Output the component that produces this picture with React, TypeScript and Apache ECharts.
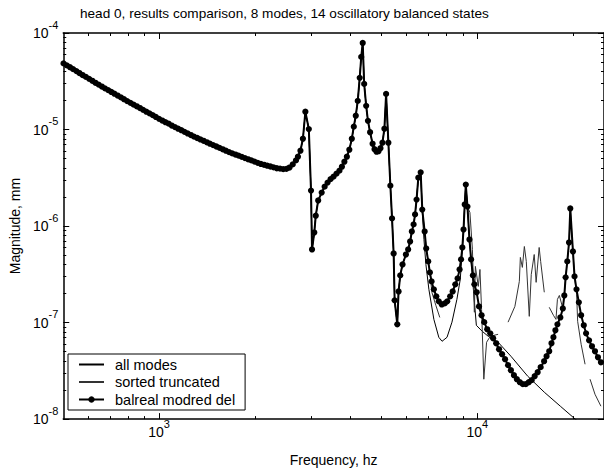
import React, { useEffect, useRef } from "react";
import * as echarts from "echarts";

const FONT = "'Liberation Sans', Arial, Helvetica, sans-serif";

const titleText = "head 0, results comparison, 8 modes, 14 oscillatory balanced states";
const xAxisName = "Frequency, hz";
const yAxisName = "Magnitude, mm";
const seriesNames = ["all modes", "sorted truncated", "balreal modred del"];

const X_MIN = 500;
const X_MAX = 25000;
const Y_MIN = 1e-8;
const Y_MAX = 1e-4;

const xMajorTicks = [1000, 10000];
const xMinorTicks = [600, 700, 800, 900, 2000, 3000, 4000, 5000, 6000, 7000, 8000, 9000, 20000];
const yMajorTicks = [1e-8, 1e-7, 1e-6, 1e-5, 1e-4];
const yMinorTicks = [
  2e-8, 3e-8, 4e-8, 5e-8, 6e-8, 7e-8, 8e-8, 9e-8,
  2e-7, 3e-7, 4e-7, 5e-7, 6e-7, 7e-7, 8e-7, 9e-7,
  2e-6, 3e-6, 4e-6, 5e-6, 6e-6, 7e-6, 8e-6, 9e-6,
  2e-5, 3e-5, 4e-5, 5e-5, 6e-5, 7e-5, 8e-5, 9e-5,
];

// balreal modred del: [frequency Hz, magnitude mm]
const balrealData: [number, number][] = [
  [501, 4.84e-5], [513, 4.62e-5], [525, 4.42e-5], [537, 4.22e-5], [550, 4.03e-5],
  [562, 3.85e-5], [575, 3.67e-5], [589, 3.51e-5], [603, 3.35e-5], [617, 3.2e-5],
  [631, 3.05e-5], [646, 2.92e-5], [661, 2.79e-5], [676, 2.67e-5], [692, 2.56e-5],
  [708, 2.45e-5], [724, 2.35e-5], [741, 2.25e-5], [759, 2.15e-5], [776, 2.06e-5],
  [794, 1.97e-5], [813, 1.89e-5], [832, 1.81e-5], [851, 1.74e-5], [871, 1.67e-5],
  [891, 1.6e-5], [912, 1.53e-5], [933, 1.47e-5], [955, 1.41e-5], [977, 1.35e-5],
  [1000, 1.29e-5], [1023, 1.24e-5], [1047, 1.19e-5], [1072, 1.15e-5], [1096, 1.1e-5],
  [1122, 1.06e-5], [1148, 1.02e-5], [1175, 9.84e-6], [1202, 9.46e-6], [1230, 9.1e-6],
  [1259, 8.77e-6], [1288, 8.43e-6], [1318, 8.17e-6], [1349, 7.89e-6], [1380, 7.64e-6],
  [1413, 7.38e-6], [1445, 7.13e-6], [1479, 6.9e-6], [1514, 6.67e-6], [1549, 6.46e-6],
  [1585, 6.24e-6], [1622, 6.03e-6], [1660, 5.83e-6], [1698, 5.66e-6], [1738, 5.51e-6],
  [1778, 5.36e-6], [1820, 5.2e-6], [1862, 5.06e-6], [1905, 4.92e-6], [1950, 4.79e-6],
  [1995, 4.65e-6], [2042, 4.52e-6], [2089, 4.4e-6], [2138, 4.31e-6], [2188, 4.22e-6],
  [2239, 4.14e-6], [2291, 4.06e-6], [2344, 3.97e-6], [2399, 3.93e-6], [2455, 3.89e-6],
  [2512, 3.91e-6], [2570, 4.04e-6], [2630, 4.35e-6], [2692, 4.79e-6],
  [2731, 5.23e-6], [2781, 6.03e-6], [2831, 8.02e-6], [2882, 1.53e-5], [2955, 1.01e-5],
  [3002, 2.33e-6], [3024, 5.72e-7], [3074, 8.57e-7], [3107, 1.28e-6], [3162, 1.84e-6],
  [3243, 2.22e-6], [3313, 2.56e-6], [3384, 2.82e-6], [3458, 3.06e-6], [3533, 3.25e-6],
  [3610, 3.49e-6], [3688, 3.75e-6], [3754, 4.12e-6], [3822, 4.64e-6], [3891, 5.23e-6],
  [3961, 6.18e-6], [4033, 8.02e-6], [4091, 1.07e-5], [4150, 1.39e-5], [4210, 1.98e-5],
  [4270, 3.43e-5], [4317, 5.65e-5], [4364, 7.88e-5], [4410, 2.97e-5], [4474, 1.76e-5],
  [4532, 1.23e-5], [4603, 9.37e-6], [4687, 7.12e-6], [4753, 6.25e-6], [4822, 5.89e-6],
  [4891, 5.96e-6], [4962, 6.4e-6], [5033, 7.3e-6], [5105, 1.02e-5], [5168, 2.34e-5],
  [5254, 7.3e-6], [5330, 2.62e-6], [5395, 1.2e-6], [5458, 5.2e-7], [5497, 1.7e-7],
  [5603, 9.59e-8], [5656, 2.1e-7], [5725, 3.08e-7], [5820, 4.0e-7], [5964, 5.07e-7],
  [6062, 5.72e-7], [6149, 6.92e-7], [6225, 8.77e-7], [6306, 1.04e-6], [6373, 1.32e-6],
  [6442, 1.88e-6], [6525, 3.17e-6], [6637, 3.6e-6], [6714, 1.48e-6], [6831, 8.77e-7],
  [6908, 5.85e-7], [7009, 4.3e-7], [7094, 3.31e-7], [7181, 2.67e-7], [7301, 2.21e-7],
  [7432, 1.87e-7], [7567, 1.66e-7], [7731, 1.54e-7], [7899, 1.58e-7], [8042, 1.66e-7],
  [8216, 1.87e-7], [8365, 2.1e-7], [8527, 2.49e-7], [8669, 2.87e-7], [8794, 3.55e-7],
  [8889, 4.51e-7], [8972, 6.0e-7], [9049, 9.2e-7], [9127, 1.67e-6], [9199, 2.69e-6],
  [9310, 1.59e-6], [9445, 7.25e-7], [9559, 4.51e-7], [9683, 3.08e-7], [9788, 2.49e-7],
  [9950, 2.06e-7], [10120, 1.47e-7], [10310, 1.19e-7], [10510, 1.01e-7], [10740, 8.52e-8],
  [10980, 7.74e-8], [11210, 6.88e-8], [11460, 6.1e-8], [11700, 5.29e-8], [11960, 4.7e-8],
  [12220, 4.17e-8], [12490, 3.62e-8], [12750, 3.21e-8], [13030, 2.85e-8], [13310, 2.59e-8],
  [13600, 2.41e-8], [13900, 2.3e-8], [14200, 2.3e-8], [14510, 2.41e-8], [14820, 2.53e-8],
  [15140, 2.78e-8], [15470, 3.06e-8], [15810, 3.45e-8], [16210, 3.98e-8], [16500, 4.48e-8],
  [16820, 5.04e-8], [17100, 6.1e-8], [17340, 7.04e-8], [17590, 8.32e-8], [17850, 9.59e-8],
  [18230, 1.13e-7], [18560, 1.4e-7], [18760, 1.91e-7], [18940, 2.94e-7], [19170, 4.3e-7],
  [19410, 6.75e-7], [19590, 1.52e-6], [19970, 5.45e-7], [20200, 3.01e-7], [20490, 2.21e-7],
  [20840, 1.62e-7], [21190, 1.19e-7], [21600, 9.37e-8], [21960, 7.74e-8], [22440, 6.55e-8],
  [22920, 5.68e-8], [23420, 5.04e-8], [23930, 4.37e-8], [24450, 3.88e-8],
];

// all modes: coincides with balreal up to 6637 Hz, then:
const allModesSplit = 6637;
const allModesHigh: [number, number][] = [
  [6714, 1.41e-6], [6796, 7.25e-7], [6893, 4.0e-7], [7043, 2.21e-7], [7301, 1.08e-7],
  [7567, 7.04e-8], [7747, 6.4e-8], [8030, 7.04e-8], [8322, 1.01e-7], [8625, 1.74e-7],
  [8837, 2.8e-7], [8951, 5.07e-7], [9049, 9.2e-7], [9199, 2.69e-6], [9310, 1.59e-6],
  [9445, 7.25e-7], [9559, 4.51e-7], [9718, 2.21e-7], [9929, 9.37e-8], [10360, 8.12e-8],
  [10820, 7.21e-8], [11620, 6.25e-8], [12750, 4.48e-8], [14400, 2.78e-8], [16230, 1.9e-8],
  [18230, 1.36e-8], [20300, 1.0e-8], [24450, 6.21e-9],
];

// sorted truncated: coincides with balreal up to 7094 Hz, then (null = gap):
const sortedSplit = 7094;
const sortedHigh: [number, number | null][] = [
  [7197, 2.06e-7], [7406, 1.51e-7], [7621, 1.13e-7], [7700, null],
  [8527, 2.49e-7], [8669, 2.87e-7], [8794, 3.55e-7], [8889, 4.51e-7], [8972, 6.0e-7],
  [9049, 9.2e-7], [9127, 1.67e-6], [9199, 2.69e-6], [9310, 1.59e-6], [9478, 1.38e-6],
  [9650, 5.72e-7], [9788, 1.28e-7], [9858, 3.82e-7], [10070, 2.37e-7], [10190, 3.55e-7],
  [10310, 1.37e-7], [10480, 2.59e-8], [10690, 6.25e-8], [10980, 7.21e-8], [11620, 7.56e-8],
  [12000, null],
  [12490, 1.01e-7], [13120, 1.47e-7], [13550, 2.67e-7], [13650, 4.73e-7], [13850, 3.73e-7],
  [14050, 6.14e-7], [14250, 4.3e-7], [14560, 1.16e-7], [14770, 3.15e-7], [15090, 5.07e-7],
  [15300, 2.61e-7], [15640, 6.0e-7], [15810, 4.3e-7], [16230, 2.06e-7],
  [16500, null],
  [16820, 1.44e-7], [17340, 1.19e-7], [17660, 1.08e-7], [17850, 1.74e-7], [18100, 1.91e-7],
  [18560, 1.4e-7], [18760, 1.91e-7], [18940, 2.94e-7], [19170, 4.3e-7], [19410, 6.75e-7],
  [19590, 1.52e-6], [19970, 5.45e-7], [20200, 3.01e-7], [20510, 1.96e-7], [20660, 1.03e-7],
  [21190, 5.96e-8], [21800, 3.7e-8],
  [22200, null],
  [22600, 2.59e-8], [23420, 1.81e-8], [24450, 1.36e-8],
];

const powFormatter = (v: number) => {
  const e = Math.round(Math.log10(v));
  return `{b|10}{s|${e}}`;
};

// base "10" centred on the tick, exponent raised ~9px via padding
const labelRich = {
  b: { fontSize: 14, lineHeight: 14, padding: [9, 0, 9, 0], color: "#000", fontFamily: FONT },
  s: { fontSize: 11, lineHeight: 11, padding: [0, 0, 17, 0], color: "#000", fontFamily: FONT },
};

export default function App() {
  const ref = useRef<HTMLDivElement>(null);

  useEffect(() => {
    if (!ref.current) return;
    const chart = echarts.init(ref.current, null, { renderer: "svg" });

    const allModesData = balrealData.filter(([f]) => f <= allModesSplit).concat(allModesHigh as any);
    const sortedData = (balrealData.filter(([f]) => f <= sortedSplit) as any[]).concat(sortedHigh);

    const lineColor = "#000";
    const baseX = { type: "log", logBase: 10, min: X_MIN, max: X_MAX, gridIndex: 0, splitLine: { show: false } };
    const baseY = { type: "log", logBase: 10, min: Y_MIN, max: Y_MAX, gridIndex: 0, splitLine: { show: false } };

    const option: any = {
      animation: false,
      backgroundColor: "#fff",
      title: {
        text: titleText,
        left: 80,
        top: 6,
        padding: 0,
        textStyle: { fontFamily: FONT, fontSize: 13.6, fontWeight: "normal", color: "#000" },
      },
      legend: {
        orient: "vertical",
        left: 68,
        top: 354,
        padding: [3, 10, 3, 10],
        itemWidth: 25,
        itemHeight: 8,
        itemGap: 2.5,
        borderColor: "#000",
        borderWidth: 1,
        backgroundColor: "#fff",
        textStyle: { fontFamily: FONT, fontSize: 14.5, color: "#000", padding: [0, 0, 0, 6] },
        data: [
          { name: seriesNames[0], itemStyle: { opacity: 0 } },
          { name: seriesNames[1], itemStyle: { opacity: 0 } },
          { name: seriesNames[2] },
        ],
      },
      grid: { left: 61, right: -3, top: 33, bottom: 52, containLabel: false },
      xAxis: [
        {
          ...baseX,
          position: "bottom",
          axisLine: { show: true, lineStyle: { color: lineColor, width: 1.5 } },
          axisTick: { show: true, inside: true, length: 6, customValues: xMajorTicks, lineStyle: { color: lineColor, width: 1 } },
          axisLabel: { show: true, customValues: xMajorTicks, formatter: powFormatter, rich: labelRich, margin: 6, color: "#000", fontFamily: FONT },
          name: xAxisName,
          nameLocation: "middle",
          nameGap: 32,
          nameTextStyle: { fontFamily: FONT, fontSize: 14, color: "#000" },
        },
        {
          ...baseX,
          position: "bottom",
          axisLine: { show: false },
          axisTick: { show: true, inside: true, length: 3, customValues: xMinorTicks, lineStyle: { color: lineColor, width: 1 } },
          axisLabel: { show: false },
        },
        {
          ...baseX,
          position: "top",
          axisLine: { show: true, lineStyle: { color: lineColor, width: 1.5 } },
          axisTick: { show: true, inside: true, length: 6, customValues: xMajorTicks, lineStyle: { color: lineColor, width: 1 } },
          axisLabel: { show: false },
        },
        {
          ...baseX,
          position: "top",
          axisLine: { show: false },
          axisTick: { show: true, inside: true, length: 3, customValues: xMinorTicks, lineStyle: { color: lineColor, width: 1 } },
          axisLabel: { show: false },
        },
      ],
      yAxis: [
        {
          ...baseY,
          position: "left",
          axisLine: { show: true, lineStyle: { color: lineColor, width: 1.5 } },
          axisTick: { show: true, inside: true, length: 6, customValues: yMajorTicks, lineStyle: { color: lineColor, width: 1 } },
          axisLabel: { show: true, customValues: yMajorTicks, formatter: powFormatter, rich: labelRich, margin: 5, color: "#000", fontFamily: FONT },
          name: yAxisName,
          nameLocation: "middle",
          nameGap: 38,
          nameTextStyle: { fontFamily: FONT, fontSize: 14, color: "#000" },
        },
        {
          ...baseY,
          position: "left",
          axisLine: { show: false },
          axisTick: { show: true, inside: true, length: 3, customValues: yMinorTicks, lineStyle: { color: lineColor, width: 1 } },
          axisLabel: { show: false },
        },
        {
          ...baseY,
          position: "right",
          axisLine: { show: true, lineStyle: { color: lineColor, width: 1.5 } },
          axisTick: { show: true, inside: true, length: 6, customValues: yMajorTicks, lineStyle: { color: lineColor, width: 1 } },
          axisLabel: { show: false },
        },
        {
          ...baseY,
          position: "right",
          axisLine: { show: false },
          axisTick: { show: true, inside: true, length: 3, customValues: yMinorTicks, lineStyle: { color: lineColor, width: 1 } },
          axisLabel: { show: false },
        },
      ],
      series: [
        {
          name: seriesNames[0],
          type: "line",
          xAxisIndex: 0,
          yAxisIndex: 0,
          data: allModesData,
          symbol: "none",
          showSymbol: false,
          connectNulls: false,
          lineStyle: { color: "#000", width: 1 },
          itemStyle: { color: "#000" },
          z: 2,
        },
        {
          name: seriesNames[1],
          type: "line",
          xAxisIndex: 0,
          yAxisIndex: 0,
          data: sortedData,
          symbol: "none",
          showSymbol: false,
          connectNulls: false,
          lineStyle: { color: "#333", width: 1 },
          itemStyle: { color: "#333" },
          z: 3,
        },
        {
          name: seriesNames[2],
          type: "line",
          xAxisIndex: 0,
          yAxisIndex: 0,
          data: balrealData,
          symbol: "circle",
          symbolSize: 6.2,
          showSymbol: true,
          showAllSymbol: true,
          lineStyle: { color: "#000", width: 2 },
          itemStyle: { color: "#000" },
          z: 4,
        },
      ],
    };

    chart.setOption(option);
    return () => {
      chart.dispose();
    };
  }, []);

  return (
    <div
      ref={ref}
      style={{ position: "fixed", left: 0, top: 0, width: 604, height: 472, background: "#fff" }}
    />
  );
}
